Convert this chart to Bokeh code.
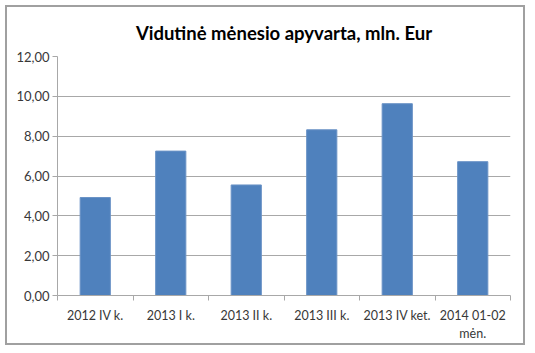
from bokeh.plotting import figure
from bokeh.models import FixedTicker, Range1d, ColumnDataSource
from bokeh.embed import file_html
from bokeh.resources import INLINE

categories = ["2012 IV k.", "2013 I k.", "2013 II k.", "2013 III k.", "2013 IV ket.", "2014 01-02\nmėn."]
values = [4.92, 7.25, 5.55, 8.32, 9.63, 6.72]
y_ticks = [0, 2, 4, 6, 8, 10, 12]
y_tick_labels = ["0,00", "2,00", "4,00", "6,00", "8,00", "10,00", "12,00"]
title_text = "Vidutinė mėnesio apyvarta, mln. Eur"

n = len(categories)
xpos = [i + 0.5 for i in range(n)]
bounds = list(range(n + 1))

FONT = "Lato"
TXT = "#383838"
GRID = "#a8a8a8"

p = figure(width=520, height=340, output_backend="svg", toolbar_location=None,
           x_range=Range1d(0, n), y_range=Range1d(0, 12),
           min_border_left=50, min_border_right=17, min_border_top=49, min_border_bottom=52,
           title=title_text)
p.styles = {"border": "2px solid #a0a0a0", "margin-left": "5px", "margin-top": "5px"}
p.outline_line_color = None
p.background_fill_color = "white"
p.border_fill_color = "white"

p.title.align = "center"
p.title.vertical_align = "middle"
p.title.standoff = 24
p.title.text_font = FONT
p.title.text_font_size = "18.5px"
p.title.text_font_style = "bold"
p.title.text_color = "black"

src = ColumnDataSource(dict(x=xpos, top=values))
p.vbar(x="x", top="top", width=0.4, source=src, fill_color="#4F81BD", line_color="#6B93C6")

p.xgrid.visible = False
p.ygrid.ticker = FixedTicker(ticks=y_ticks)
p.ygrid.grid_line_color = GRID

ya = p.yaxis[0]
ya.ticker = FixedTicker(ticks=y_ticks)
ya.major_label_overrides = {t: l for t, l in zip(y_ticks, y_tick_labels)}
ya.major_tick_out = 5
ya.major_tick_in = 0
ya.minor_tick_line_color = None
ya.axis_line_color = GRID
ya.major_tick_line_color = GRID
ya.major_label_text_font = FONT
ya.major_label_text_font_size = "13px"
ya.major_label_text_color = TXT
ya.major_label_standoff = 3

xa = p.xaxis[0]
xa.ticker = FixedTicker(ticks=xpos, minor_ticks=bounds)
xa.major_label_overrides = {x: c for x, c in zip(xpos, categories)}
xa.major_tick_out = 0
xa.major_tick_in = 0
xa.minor_tick_out = 5
xa.minor_tick_in = 0
xa.minor_tick_line_color = GRID
xa.axis_line_color = GRID
xa.major_label_text_font = FONT
xa.major_label_text_font_size = "12.5px"
xa.major_label_text_color = TXT
xa.major_label_standoff = 7

open("out.html", "w").write(file_html(p, INLINE))
